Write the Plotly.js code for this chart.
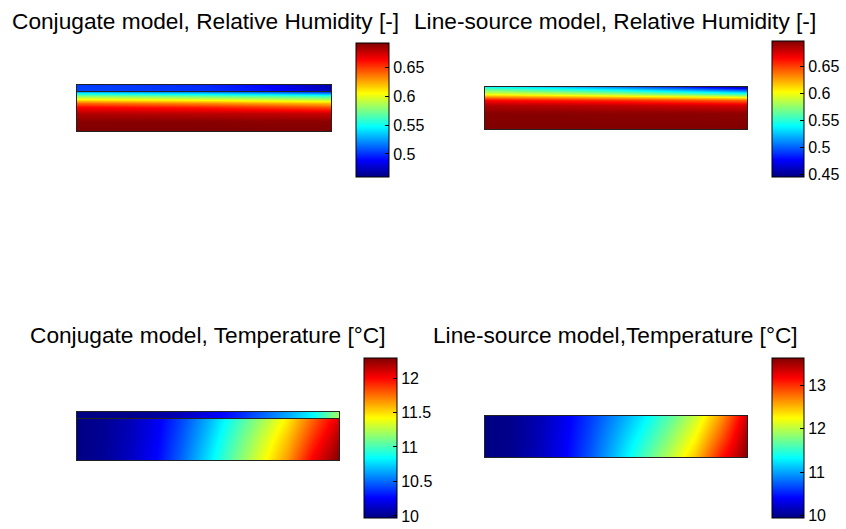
<!DOCTYPE html>
<html>
<head>
<meta charset="utf-8">
<script src="https://cdn.plot.ly/plotly-3.0.1.min.js"></script>
<style>html,body{margin:0;padding:0;background:#fff;}#chart{width:846px;height:529px;}</style>
</head>
<body>
<div id="chart"></div>
<script>
// ---------------- DATA ----------------
// Titles
const panelTitles = [
  "Conjugate model, Relative Humidity [-]",
  "Line-source model, Relative Humidity [-]",
  "Conjugate model, Temperature [°C]",
  "Line-source model,Temperature [°C]"
];

// Relative position along the domain (left -> right)
const rhPos = [0, 0.25, 0.5, 0.75, 1];
const tPos = [0, 0.1, 0.2, 0.3, 0.4, 0.5, 0.6, 0.7, 0.8, 0.9, 1];

// Conjugate model, RH: solid region (rows bottom -> top)
const rhConjY = [0, 10, 18, 24, 28, 32, 35, 38, 40];
const rhConjZ = [
  [0.692, 0.692, 0.692, 0.692, 0.692],
  [0.690, 0.690, 0.690, 0.689, 0.689],
  [0.680, 0.679, 0.678, 0.677, 0.675],
  [0.663, 0.660, 0.657, 0.651, 0.645],
  [0.640, 0.636, 0.632, 0.626, 0.620],
  [0.605, 0.601, 0.597, 0.591, 0.585],
  [0.580, 0.576, 0.571, 0.566, 0.560],
  [0.545, 0.540, 0.535, 0.528, 0.520],
  [0.520, 0.514, 0.508, 0.500, 0.490]
];
// Conjugate model, RH: air layer on top
const rhConjAirY = [40, 46];
const rhConjAirZ = [
  [0.505, 0.503, 0.500, 0.492, 0.475],
  [0.503, 0.501, 0.498, 0.489, 0.470]
];

// Line-source model, RH
const rhLineY = [0, 16, 24, 29, 32, 35, 39, 42];
const rhLineZ = [
  [0.697, 0.697, 0.697, 0.697, 0.697],
  [0.695, 0.695, 0.694, 0.694, 0.693],
  [0.685, 0.683, 0.681, 0.678, 0.675],
  [0.665, 0.660, 0.655, 0.648, 0.640],
  [0.635, 0.628, 0.620, 0.610, 0.600],
  [0.600, 0.592, 0.582, 0.570, 0.555],
  [0.570, 0.558, 0.543, 0.523, 0.500],
  [0.545, 0.530, 0.512, 0.488, 0.460]
];

// Conjugate model, Temperature: solid region (bottom, middle, top rows)
const tConjY = [0, 21, 42];
const tConjZ = [
  [9.98, 10.02, 10.12, 10.26, 10.50, 10.78, 11.08, 11.36, 11.65, 12.03, 12.29],
  [9.98, 10.015, 10.10, 10.24, 10.46, 10.72, 11.01, 11.28, 11.56, 11.90, 12.20],
  [9.98, 10.01, 10.09, 10.22, 10.42, 10.66, 10.93, 11.18, 11.45, 11.78, 12.08]
];
// Conjugate model, Temperature: air layer on top
const tConjAirY = [42, 48];
const tConjAirZ = [
  [9.98, 9.99, 10.00, 10.04, 10.12, 10.22, 10.33, 10.48, 10.65, 10.85, 11.25],
  [9.98, 9.99, 10.00, 10.03, 10.10, 10.20, 10.31, 10.46, 10.63, 10.83, 11.20]
];

// Line-source model, Temperature
const tLineY = [0, 20.5, 41];
const tLineZ = [
  [9.96, 10.00, 10.15, 10.38, 10.72, 11.12, 11.55, 11.98, 12.45, 13.10, 13.60],
  [9.96, 9.995, 10.13, 10.36, 10.67, 11.03, 11.40, 11.80, 12.25, 12.85, 13.50],
  [9.96, 9.99, 10.12, 10.34, 10.62, 10.93, 11.25, 11.62, 12.05, 12.62, 13.35]
];

// Colour ranges and colorbar ticks
const rhConjRange = [0.46, 0.692];
const rhConjTicks = [0.5, 0.55, 0.6, 0.65];
const rhConjTickText = ["0.5", "0.55", "0.6", "0.65"];
const rhLineRange = [0.445, 0.697];
const rhLineTicks = [0.45, 0.5, 0.55, 0.6, 0.65];
const rhLineTickText = ["0.45", "0.5", "0.55", "0.6", "0.65"];
const tConjRange = [9.97, 12.29];
const tConjTicks = [10, 10.5, 11, 11.5, 12];
const tConjTickText = ["10", "10.5", "11", "11.5", "12"];
const tLineRange = [9.95, 13.62];
const tLineTicks = [10, 11, 12, 13];
const tLineTickText = ["10", "11", "12", "13"];

// ---------------- STYLE ----------------
const W = 846, H = 529;
const FONT = "Liberation Sans, Arial, Helvetica, sans-serif";
const jet = [
  [0, "rgb(0,0,128)"],
  [0.125, "rgb(0,0,255)"],
  [0.375, "rgb(0,255,255)"],
  [0.625, "rgb(255,255,0)"],
  [0.875, "rgb(255,0,0)"],
  [1, "rgb(128,0,0)"]
];

function px(x) { return x / W; }
function py(y) { return 1 - y / H; }

function hm(x, y, z, ax, ca) {
  return {
    type: "heatmap", x: x, y: y, z: z, zsmooth: "best",
    xaxis: "x" + ax, yaxis: "y" + ax, coloraxis: ca, hoverinfo: "skip"
  };
}

const traces = [
  hm(rhPos, rhConjY, rhConjZ, "", "coloraxis"),
  hm(rhPos, rhConjAirY, rhConjAirZ, "2", "coloraxis"),
  hm(rhPos, rhLineY, rhLineZ, "3", "coloraxis2"),
  hm(tPos, tConjY, tConjZ, "4", "coloraxis3"),
  hm(tPos, tConjAirY, tConjAirZ, "5", "coloraxis3"),
  hm(tPos, tLineY, tLineZ, "6", "coloraxis4")
];

function axX(x0, x1, anchor) {
  return {domain: [px(x0), px(x1)], range: [0, 1], anchor: anchor,
    showline: true, mirror: true, linecolor: "#222", linewidth: 1,
    showgrid: false, zeroline: false, showticklabels: false, ticks: "", fixedrange: true};
}
function axY(yTop, yBot, range, anchor) {
  return {domain: [py(yBot), py(yTop)], range: range, anchor: anchor,
    showline: true, mirror: true, linecolor: "#222", linewidth: 1,
    showgrid: false, zeroline: false, showticklabels: false, ticks: "", fixedrange: true};
}
function cbar(xLeft, yTop, len, thick, vals, text) {
  return {
    x: px(xLeft), xanchor: "left", xpad: 0, xref: "paper",
    y: py(yTop), yanchor: "top", ypad: 0, yref: "paper",
    len: len, lenmode: "pixels", thickness: thick, thicknessmode: "pixels",
    outlinewidth: 1, outlinecolor: "#000",
    tickmode: "array", tickvals: vals, ticktext: text,
    ticks: "inside", ticklen: 4, tickcolor: "#000", tickwidth: 1,
    tickfont: {family: FONT, size: 16, color: "#000"}
  };
}
function coloraxis(range, cb) {
  return {cmin: range[0], cmax: range[1], colorscale: jet, colorbar: cb};
}
function title(text, xc, yc) {
  return {text: text, x: px(xc), y: py(yc), xref: "paper", yref: "paper",
    xanchor: "center", yanchor: "middle", showarrow: false,
    font: {family: FONT, size: 22.7, color: "#000"}};
}

const layout = {
  width: W, height: H,
  margin: {l: 0, r: 0, t: 0, b: 0},
  paper_bgcolor: "#fff", plot_bgcolor: "#fff",
  showlegend: false,
  xaxis: axX(77, 331, "y"),   yaxis: axY(91, 131, [0, 40], "x"),
  xaxis2: axX(77, 331, "y2"), yaxis2: axY(85, 91, [40, 46], "x2"),
  xaxis3: axX(485, 747, "y3"), yaxis3: axY(87, 129, [0, 42], "x3"),
  xaxis4: axX(77, 339, "y4"), yaxis4: axY(418, 460, [0, 42], "x4"),
  xaxis5: axX(77, 339, "y5"), yaxis5: axY(412, 418, [42, 48], "x5"),
  xaxis6: axX(485, 747, "y6"), yaxis6: axY(416, 457, [0, 41], "x6"),
  coloraxis: coloraxis(rhConjRange, cbar(356, 43, 134, 33, rhConjTicks, rhConjTickText)),
  coloraxis2: coloraxis(rhLineRange, cbar(772, 41, 136, 32, rhLineTicks, rhLineTickText)),
  coloraxis3: coloraxis(tConjRange, cbar(364, 358, 160, 33, tConjTicks, tConjTickText)),
  coloraxis4: coloraxis(tLineRange, cbar(772, 358, 160, 32, tLineTicks, tLineTickText)),
  annotations: [
    title(panelTitles[0], 205, 20.5),
    title(panelTitles[1], 615, 20.5),
    title(panelTitles[2], 207, 334.5),
    title(panelTitles[3], 615, 334.5)
  ]
};

Plotly.newPlot("chart", traces, layout, {staticPlot: true, displayModeBar: false});
</script>
</body>
</html>
